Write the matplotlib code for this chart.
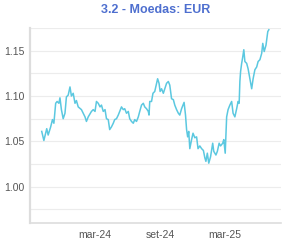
import pandas as pd
import numpy as np
import matplotlib.pyplot as plt
import matplotlib.dates as mdates
from matplotlib.ticker import MultipleLocator, FormatStrFormatter

plt.rcParams['font.family'] = ['Liberation Sans', 'DejaVu Sans']

title = '3.2 - Moedas: EUR'

# cotação EUR (leitura aproximada do gráfico)
dates = [
    '2023-10-06', '2023-10-12', '2023-10-20', '2023-10-24', '2023-10-31',
    '2023-11-05', '2023-11-09', '2023-11-14', '2023-11-18', '2023-11-23',
    '2023-11-26', '2023-11-30', '2023-12-05', '2023-12-10', '2023-12-14',
    '2023-12-19', '2023-12-24', '2023-12-28', '2024-01-02', '2024-01-07',
    '2024-01-11', '2024-01-16', '2024-01-25', '2024-02-04', '2024-02-08',
    '2024-02-13', '2024-02-22', '2024-02-27', '2024-03-03', '2024-03-07',
    '2024-03-12', '2024-03-17', '2024-03-21', '2024-03-26', '2024-03-31',
    '2024-04-04', '2024-04-09', '2024-04-13', '2024-04-18', '2024-04-23',
    '2024-04-27', '2024-05-02', '2024-05-07', '2024-05-11', '2024-05-16',
    '2024-05-21', '2024-05-25', '2024-05-30', '2024-06-04', '2024-06-08',
    '2024-06-13', '2024-06-18', '2024-06-22', '2024-06-27', '2024-07-02',
    '2024-07-06', '2024-07-11', '2024-07-16', '2024-07-20', '2024-07-25',
    '2024-07-30', '2024-08-01', '2024-08-03', '2024-08-08', '2024-08-12',
    '2024-08-17', '2024-08-22', '2024-08-25', '2024-08-29', '2024-09-01',
    '2024-09-05', '2024-09-10', '2024-09-14', '2024-09-19', '2024-09-24',
    '2024-09-28', '2024-10-03', '2024-10-08', '2024-10-12', '2024-10-17',
    '2024-10-22', '2024-10-26', '2024-10-31', '2024-11-04', '2024-11-07',
    '2024-11-11', '2024-11-14', '2024-11-17', '2024-11-20', '2024-11-23',
    '2024-11-28', '2024-12-02', '2024-12-07', '2024-12-12', '2024-12-16',
    '2024-12-21', '2024-12-26', '2024-12-31', '2025-01-04', '2025-01-07',
    '2025-01-11', '2025-01-15', '2025-01-20', '2025-01-26', '2025-01-29',
    '2025-02-04', '2025-02-08', '2025-02-13', '2025-02-17', '2025-02-23',
    '2025-02-26', '2025-03-02', '2025-03-06', '2025-03-10', '2025-03-15',
    '2025-03-20', '2025-03-24', '2025-03-29', '2025-04-03', '2025-04-07',
    '2025-04-10', '2025-04-12', '2025-04-14', '2025-04-17', '2025-04-20',
    '2025-04-23', '2025-04-26', '2025-05-01', '2025-05-05', '2025-05-10',
    '2025-05-15', '2025-05-19', '2025-05-24', '2025-05-29', '2025-06-02',
    '2025-06-07', '2025-06-12', '2025-06-15', '2025-06-19', '2025-06-24',
    '2025-06-29', '2025-07-02',
]
eur = [
    1.061, 1.051, 1.064, 1.057, 1.066,
    1.074, 1.070, 1.092, 1.094, 1.092,
    1.098, 1.085, 1.075, 1.081, 1.099,
    1.101, 1.110, 1.100, 1.103, 1.092,
    1.095, 1.088, 1.085, 1.077, 1.072,
    1.077, 1.083, 1.085, 1.083, 1.094,
    1.092, 1.088, 1.090, 1.083, 1.085,
    1.075, 1.074, 1.063, 1.066, 1.070,
    1.074, 1.075, 1.079, 1.083, 1.088,
    1.085, 1.086, 1.081, 1.083, 1.075,
    1.072, 1.070, 1.074, 1.072, 1.077,
    1.083, 1.090, 1.092, 1.088, 1.086,
    1.083, 1.079, 1.094, 1.094, 1.103,
    1.105, 1.114, 1.119, 1.114, 1.105,
    1.108, 1.103, 1.108, 1.114, 1.116,
    1.112, 1.097, 1.096, 1.090, 1.085,
    1.081, 1.079, 1.086, 1.090, 1.093,
    1.079, 1.063, 1.055, 1.061, 1.042,
    1.052, 1.059, 1.054, 1.055, 1.042,
    1.045, 1.042, 1.040, 1.032, 1.028,
    1.037, 1.026, 1.033, 1.048, 1.039,
    1.035, 1.039, 1.048, 1.045, 1.048,
    1.052, 1.037, 1.077, 1.085, 1.090,
    1.094, 1.081, 1.077, 1.086, 1.094,
    1.092, 1.116, 1.127, 1.136, 1.143,
    1.151, 1.138, 1.136, 1.130, 1.119,
    1.108, 1.119, 1.129, 1.132, 1.138,
    1.140, 1.147, 1.158, 1.149, 1.156,
    1.171, 1.173,
]

x_ticks = ['2024-03-01', '2024-09-01', '2025-03-01']
x_ticklabels = ['mar-24', 'set-24', 'mar-25']

df = pd.DataFrame({'data': pd.to_datetime(dates), 'eur': eur})

fig = plt.figure(figsize=(2.85, 2.43), dpi=100)
ax = fig.add_axes([0.105, 0.082, 0.881, 0.803])

ax.plot(df['data'], df['eur'], color='#5bc8e0', linewidth=1.1)

ax.set_xlim(pd.Timestamp('2023-09-03'), pd.Timestamp('2025-08-05'))
ax.set_ylim(0.96, 1.175)

ax.set_xticks(pd.to_datetime(x_ticks))
ax.set_xticklabels(x_ticklabels)
ax.yaxis.set_major_locator(MultipleLocator(0.05))
ax.yaxis.set_minor_locator(MultipleLocator(0.025))
ax.yaxis.set_major_formatter(FormatStrFormatter('%.2f'))

ax.grid(axis='y', which='both', color='#ececec', linewidth=0.8)
ax.set_axisbelow(True)
ax.tick_params(axis='both', which='both', length=0, labelsize=7.5,
               labelcolor='#555555')
ax.tick_params(axis='y', pad=4)
ax.tick_params(axis='x', pad=5)

for s in ['top', 'right']:
    ax.spines[s].set_visible(False)
ax.spines['left'].set_color('#dddddd')
ax.spines['left'].set_linewidth(1.6)
ax.spines['bottom'].set_color('#dddddd')
ax.spines['bottom'].set_linewidth(1.2)

fig.text(0.545, 0.96, title, ha='center', va='center', fontsize=9,
         fontweight='bold', color='#4e6fcf')

fig.savefig('out.png', dpi=100)
